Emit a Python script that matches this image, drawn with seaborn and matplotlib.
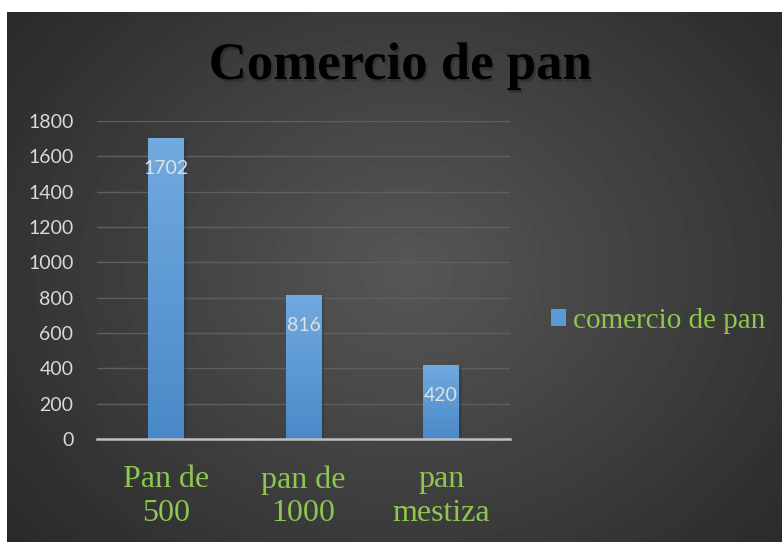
import numpy as np
import pandas as pd
import matplotlib
matplotlib.use('Agg')
import matplotlib.pyplot as plt
import matplotlib.patheffects as pe
from matplotlib.patches import Patch
from matplotlib.colors import LinearSegmentedColormap
import seaborn as sns

# datos del grafico
categorias = ['Pan de\n500', 'pan de\n1000', 'pan\nmestiza']
valores = [1702, 816, 420]
serie = 'comercio de pan'
titulo = 'Comercio de pan'
marcas_y = [0, 200, 400, 600, 800, 1000, 1200, 1400, 1600, 1800]

df = pd.DataFrame({'producto': categorias, 'cantidad': valores})

verde = '#8dc74f'
azul = '#5b9bd5'

fig = plt.figure(figsize=(7.82, 5.42), dpi=100)
fig.patch.set_facecolor('white')

# fondo oscuro con degradado radial
fondo = fig.add_axes([7 / 782, 0, 775 / 782, 530 / 542], zorder=0)
yy, xx = np.mgrid[0:530, 0:775]
r = np.hypot((xx - 400) / 520, (yy - 260) / 430)
r = np.clip(r, 0, 1)
gris = 0.34 - 0.18 * r
fondo.imshow(gris, cmap='gray', vmin=0, vmax=1, aspect='auto', interpolation='bilinear')
fondo.axis('off')

# grafico de barras
ax = fig.add_axes([97 / 782, 1 - 439 / 542, 413 / 782, 318 / 542], zorder=1)
ax.set_facecolor('none')
sns.barplot(data=df, x='producto', y='cantidad', color=azul, width=0.26,
            saturation=1, ax=ax)

# degradado vertical dentro de cada barra
grad = np.linspace(0, 1, 100).reshape(-1, 1)
cmap_barra = LinearSegmentedColormap.from_list('barra', ['#4a89c9', '#71aadf'])
for barra in ax.patches:
    x0 = barra.get_x()
    w = barra.get_width()
    h = barra.get_height()
    barra.set_path_effects([pe.SimplePatchShadow(offset=(2, -1), alpha=0.35), pe.Normal()])
    im = ax.imshow(grad, cmap=cmap_barra, extent=[x0, x0 + w, 0, h], origin='lower',
                   aspect='auto', zorder=barra.get_zorder() + 0.1)
    im.set_clip_path(barra)

etiquetas = ax.bar_label(ax.containers[0], padding=-28, color='#e0e0e0',
                         fontsize=14, family='Lato')
for t in etiquetas:
    t.set_zorder(5)

ax.set_xlim(-0.5, 2.5)
ax.set_ylim(0, 1800)
ax.set_yticks(marcas_y)
ax.yaxis.grid(True, color='#5f5f5f', lw=1)
ax.xaxis.grid(False)
ax.set_axisbelow(True)
for lado in ['top', 'right', 'left']:
    ax.spines[lado].set_visible(False)
ax.spines['bottom'].set_color('#bfbfbf')
ax.spines['bottom'].set_linewidth(1.8)
ax.spines['bottom'].set_zorder(6)

ax.set_xlabel('')
ax.set_ylabel('')
ax.tick_params(axis='y', length=0, pad=17, labelcolor='#d9d9d9', labelsize=14)
ax.tick_params(axis='x', length=0, pad=19, labelcolor=verde, labelsize=23)
for t in ax.get_yticklabels():
    t.set_family('Lato')
for t in ax.get_xticklabels():
    t.set_family('Liberation Serif')
    t.set_linespacing(1.2)

# leyenda
fig.legend(handles=[Patch(facecolor=azul, label=serie)], loc='center left',
           bbox_to_anchor=(551 / 782, 1 - 321 / 542), frameon=False,
           borderpad=0, borderaxespad=0,
           prop={'family': 'Liberation Serif', 'size': 21}, labelcolor=verde,
           handlelength=0.5, handleheight=0.5, handletextpad=0.25)

# titulo
fig.text(400 / 782, 1 - 79 / 542, titulo, ha='center', va='baseline',
         family='Liberation Serif', weight='bold', size=38, color='black',
         path_effects=[pe.withSimplePatchShadow(offset=(1.5, -2), shadow_rgbFace='black', alpha=0.2)])

fig.savefig('out.png', dpi=100)
